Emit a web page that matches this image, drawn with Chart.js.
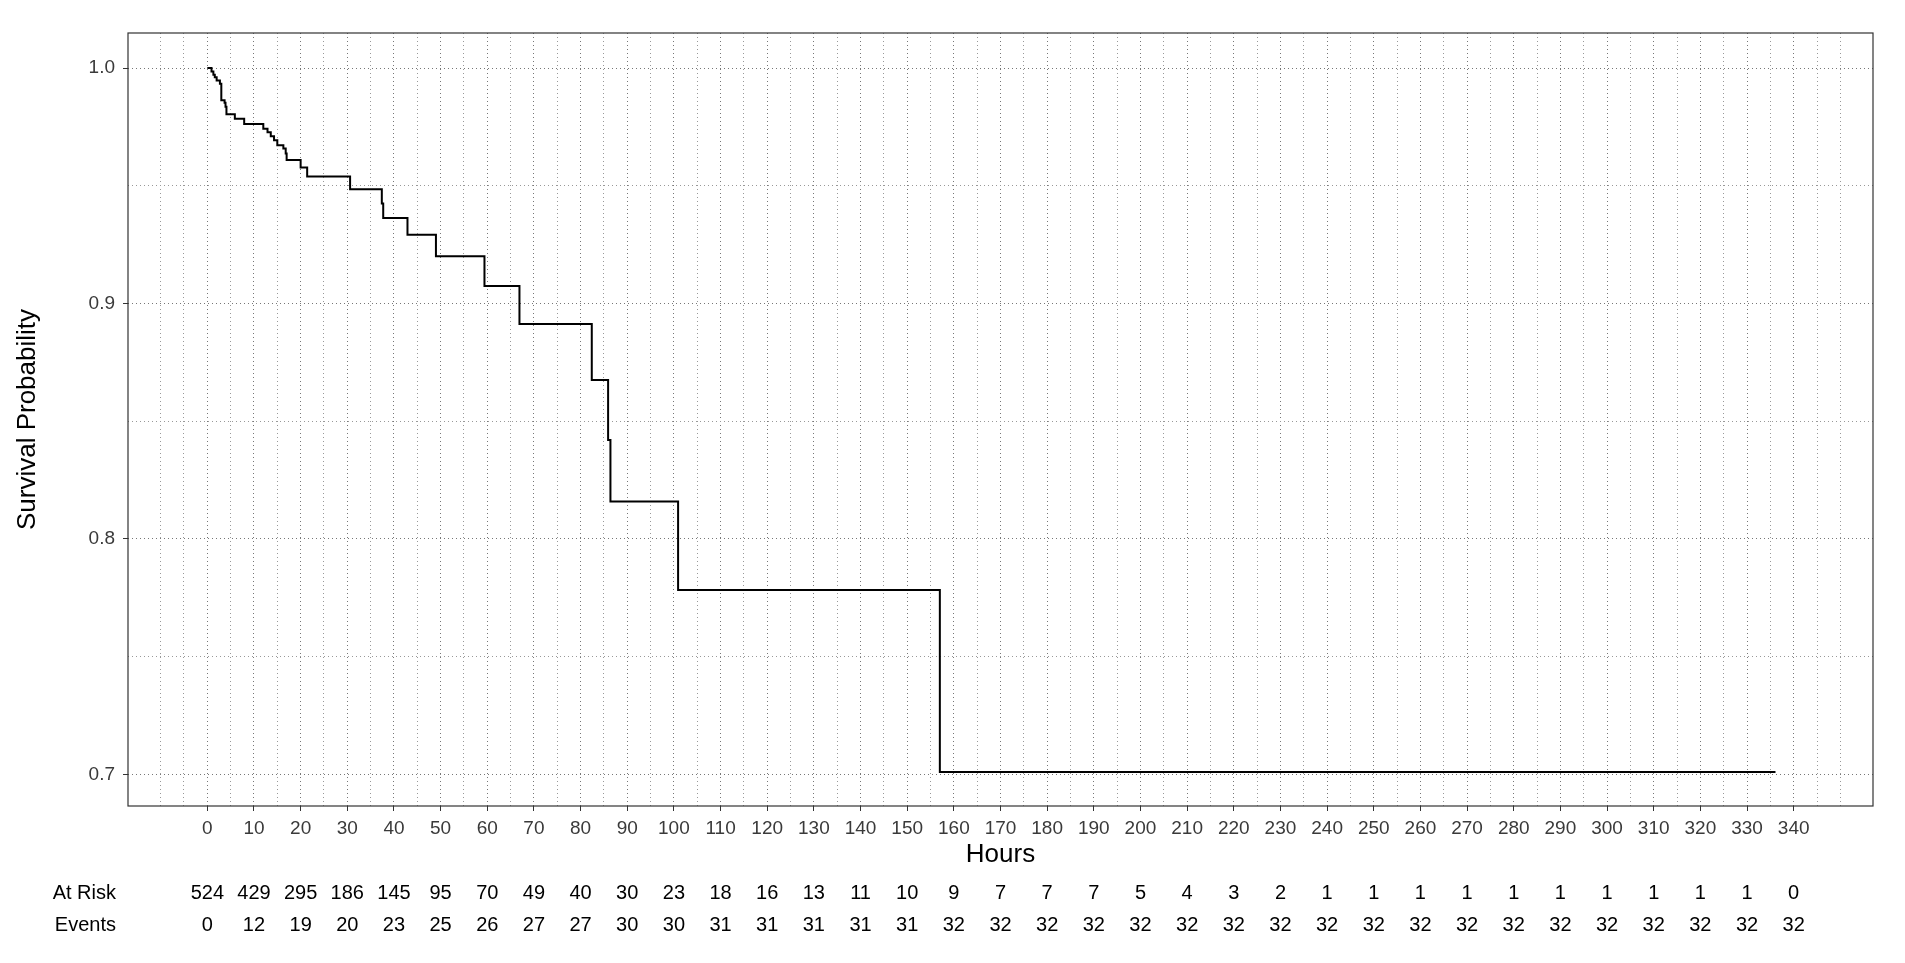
<!DOCTYPE html>
<html>
<head>
<meta charset="utf-8">
<title>Survival Probability</title>
<script src="https://cdn.jsdelivr.net/npm/chart.js@4.4.1/dist/chart.umd.min.js"></script>
<style>
  html, body { margin: 0; padding: 0; background: #fff; }
  #wrap { width: 1905px; height: 963px; position: relative; }
</style>
</head>
<body>
<div id="wrap"><canvas id="kmChart"></canvas></div>
<script>
// Curva de supervivencia (Kaplan-Meier)
const horas = [0, 0.9, 1.3, 1.6, 2.0, 2.7, 3.0, 3.7, 3.9, 4.1, 5.9, 7.9, 12.0, 12.9, 13.6, 14.3, 15.0,
               16.3, 16.8, 17.0, 20.0, 21.4, 30.6, 37.4, 37.7, 42.9, 49.0, 59.4, 66.9, 82.4, 85.9,
               86.4, 100.9, 157.0, 336.1];
const supervivencia = [1.0, 0.9986, 0.9972, 0.9961, 0.9947, 0.9933, 0.9863, 0.9853, 0.9836, 0.9804,
                       0.9785, 0.9763, 0.9742, 0.9728, 0.9710, 0.9693, 0.9672, 0.9658, 0.9637, 0.9610,
                       0.9578, 0.9540, 0.9485, 0.9425, 0.9363, 0.9292, 0.9201, 0.9075, 0.8913, 0.8675,
                       0.8420, 0.8159, 0.7783, 0.7010, 0.7010];

// Tabla de riesgo
const tiemposTabla = [0, 10, 20, 30, 40, 50, 60, 70, 80, 90, 100, 110, 120, 130, 140, 150, 160, 170,
                      180, 190, 200, 210, 220, 230, 240, 250, 260, 270, 280, 290, 300, 310, 320, 330, 340];
const enRiesgo = [524, 429, 295, 186, 145, 95, 70, 49, 40, 30, 23, 18, 16, 13, 11, 10, 9, 7, 7, 7, 5, 4,
                  3, 2, 1, 1, 1, 1, 1, 1, 1, 1, 1, 1, 0];
const eventos = [0, 12, 19, 20, 23, 25, 26, 27, 27, 30, 30, 31, 31, 31, 31, 31, 32, 32, 32, 32, 32, 32,
                 32, 32, 32, 32, 32, 32, 32, 32, 32, 32, 32, 32, 32];

// Ticks del eje Y
const ticksY = [0.7, 0.75, 0.8, 0.85, 0.9, 0.95, 1.0];
const etiquetasY = [0.7, 0.8, 0.9, 1.0];

// Lineas de la rejilla en X (cada 5 horas)
const rejillaX = [];
for (let v = -10; v <= 350; v += 5) rejillaX.push(v);

const FUENTE = '"Liberation Sans", Arial, Helvetica, sans-serif';
const esEtiquetaX = v => tiemposTabla.includes(v);
const esEtiquetaY = v => etiquetasY.some(e => Math.abs(e - v) < 1e-9);

// Marco del panel y tabla de riesgo debajo del eje
const tablaRiesgo = {
    id: 'tablaRiesgo',
    afterDraw(chart) {
        const { ctx, chartArea, scales: { x } } = chart;
        ctx.save();
        ctx.strokeStyle = '#333';
        ctx.lineWidth = 1.2;
        ctx.strokeRect(chartArea.left, chartArea.top, chartArea.width, chartArea.height);

        ctx.font = '20px ' + FUENTE;
        ctx.fillStyle = '#000';
        ctx.textBaseline = 'middle';
        ctx.textAlign = 'right';
        ctx.fillText('At Risk', 116, 893);
        ctx.fillText('Events', 116, 925);
        ctx.textAlign = 'center';
        tiemposTabla.forEach((t, i) => {
            const px = x.getPixelForValue(t);
            ctx.fillText(String(enRiesgo[i]), px, 893);
            ctx.fillText(String(eventos[i]), px, 925);
        });
        ctx.restore();
    }
};

const ctx = document.getElementById('kmChart').getContext('2d');
new Chart(ctx, {
    type: 'line',
    data: {
        datasets: [{
            data: horas.map((h, i) => ({ x: h, y: supervivencia[i] })),
            borderColor: '#000',
            borderWidth: 2,
            stepped: 'before',
            pointRadius: 0,
            fill: false
        }]
    },
    options: {
        responsive: true,
        maintainAspectRatio: false,
        animation: false,
        layout: { padding: { top: 33, right: 32, bottom: 0, left: 0 } },
        plugins: {
            legend: { display: false },
            tooltip: { enabled: false }
        },
        scales: {
            x: {
                type: 'linear',
                min: -17,
                max: 357,
                afterBuildTicks: axis => { axis.ticks = rejillaX.map(v => ({ value: v })); },
                afterFit: axis => { axis.height = 157; },
                ticks: {
                    autoSkip: false,
                    maxRotation: 0,
                    minRotation: 0,
                    padding: 6,
                    color: '#3a3a3a',
                    font: { family: FUENTE, size: 19 },
                    callback: v => esEtiquetaX(v) ? String(v) : ''
                },
                grid: {
                    color: c => esEtiquetaX(c.tick.value) ? '#777' : '#999',
                    tickColor: c => esEtiquetaX(c.tick.value) ? '#333' : 'rgba(0,0,0,0)',
                    tickLength: 5,
                    lineWidth: 1
                },
                border: { display: false, dash: [1, 3] },
                title: {
                    display: true,
                    text: 'Hours',
                    color: '#000',
                    font: { family: FUENTE, size: 26 },
                    padding: { top: 0, bottom: 93 }
                }
            },
            y: {
                type: 'linear',
                min: 0.6866,
                max: 1.0149,
                afterBuildTicks: axis => { axis.ticks = ticksY.map(v => ({ value: v })); },
                afterFit: axis => { axis.width = 128; },
                ticks: {
                    padding: 8,
                    color: '#3a3a3a',
                    font: { family: FUENTE, size: 19 },
                    callback: v => esEtiquetaY(v) ? v.toFixed(1) : ''
                },
                grid: {
                    color: c => esEtiquetaY(c.tick.value) ? '#777' : '#999',
                    tickColor: c => esEtiquetaY(c.tick.value) ? '#333' : 'rgba(0,0,0,0)',
                    tickLength: 5,
                    lineWidth: 1
                },
                border: { display: false, dash: [1, 3] },
                title: {
                    display: true,
                    text: 'Survival Probability',
                    color: '#000',
                    font: { family: FUENTE, size: 26 },
                    padding: { top: 12, bottom: 0 }
                }
            }
        }
    },
    plugins: [tablaRiesgo]
});
</script>
</body>
</html>
